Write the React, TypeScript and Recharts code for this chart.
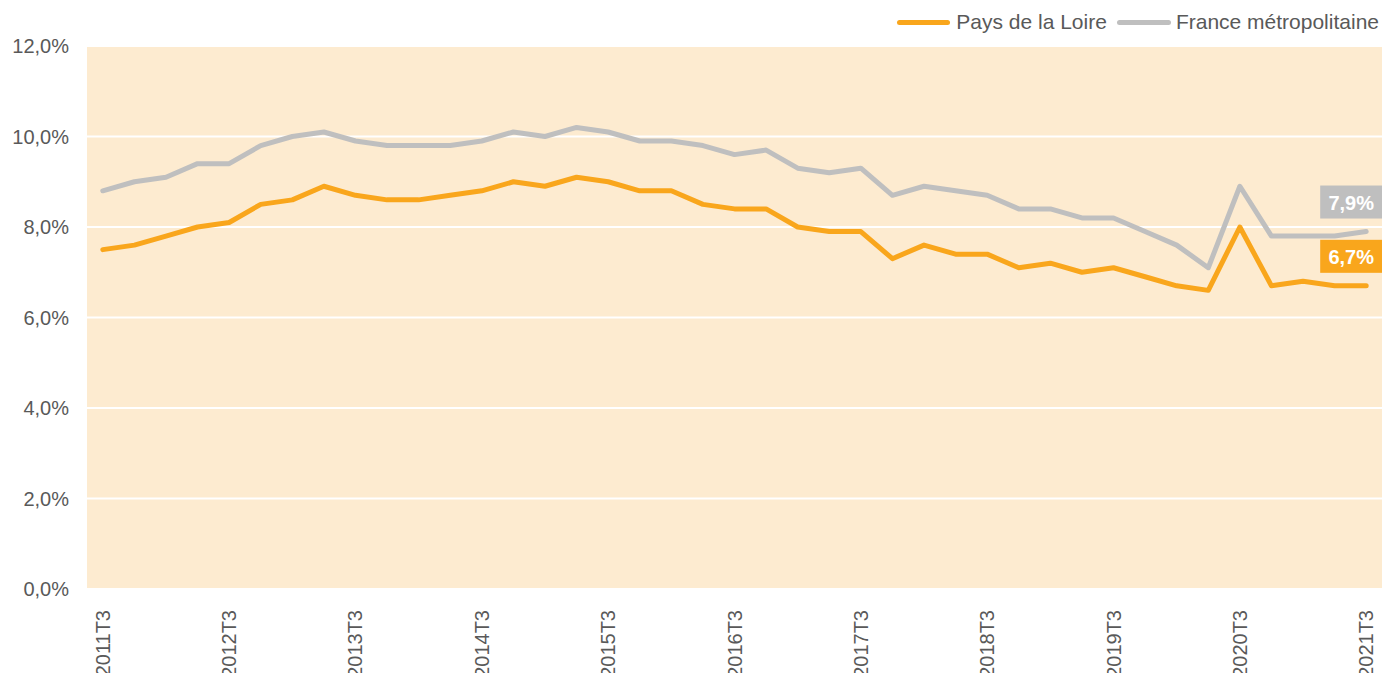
import React from "react";
import { LineChart, Line, XAxis, YAxis, CartesianGrid, LabelList } from "recharts";

const periods = [
  "2011T3","2011T4","2012T1","2012T2","2012T3","2012T4","2013T1","2013T2","2013T3","2013T4",
  "2014T1","2014T2","2014T3","2014T4","2015T1","2015T2","2015T3","2015T4","2016T1","2016T2",
  "2016T3","2016T4","2017T1","2017T2","2017T3","2017T4","2018T1","2018T2","2018T3","2018T4",
  "2019T1","2019T2","2019T3","2019T4","2020T1","2020T2","2020T3","2020T4","2021T1","2021T2","2021T3",
];
const paysDeLaLoire = [
  7.5, 7.6, 7.8, 8.0, 8.1, 8.5, 8.6, 8.9, 8.7, 8.6,
  8.6, 8.7, 8.8, 9.0, 8.9, 9.1, 9.0, 8.8, 8.8, 8.5,
  8.4, 8.4, 8.0, 7.9, 7.9, 7.3, 7.6, 7.4, 7.4, 7.1,
  7.2, 7.0, 7.1, 6.9, 6.7, 6.6, 8.0, 6.7, 6.8, 6.7, 6.7,
];
const franceMetro = [
  8.8, 9.0, 9.1, 9.4, 9.4, 9.8, 10.0, 10.1, 9.9, 9.8,
  9.8, 9.8, 9.9, 10.1, 10.0, 10.2, 10.1, 9.9, 9.9, 9.8,
  9.6, 9.7, 9.3, 9.2, 9.3, 8.7, 8.9, 8.8, 8.7, 8.4,
  8.4, 8.2, 8.2, 7.9, 7.6, 7.1, 8.9, 7.8, 7.8, 7.8, 7.9,
];
const yTicks = [0, 2, 4, 6, 8, 10, 12];
const seriesNames = ["Pays de la Loire", "France métropolitaine"];

const ORANGE = "#F9A61C";
const GRAY = "#BFBFBF";
const TEXT = "#595959";
const FONT = "'Liberation Sans', Arial, sans-serif";

const data = periods.map((p, i) => ({ period: p, pdl: paysDeLaLoire[i], fr: franceMetro[i] }));

const fmt = (v: number) => v.toFixed(1).replace(".", ",") + "%";

const XTick = (props: any) => {
  const { x, y, payload } = props;
  const ay = y + 13;
  return (
    <text x={x} y={ay} transform={`rotate(-90, ${x}, ${ay})`} textAnchor="end" dy="0.35em"
      fill={TEXT} fontSize={20} fontFamily={FONT}>
      {payload.value}
    </text>
  );
};

const makeLastLabel = (color: string) => (props: any) => {
  const { x, y, value, index } = props;
  if (index !== periods.length - 1) return null;
  return (
    <g>
      <rect x={x - 46} y={y - 46} width={62} height={33} fill={color} />
      <text x={x - 15} y={y - 29} dy="0.36em" textAnchor="middle" fill="#fff" fontSize={20}
        fontWeight="bold" fontFamily={FONT}>
        {fmt(value)}
      </text>
    </g>
  );
};

const LegendBox = () => (
  <div style={{ position: "absolute", top: 10, right: 3, display: "flex", alignItems: "center",
    fontFamily: FONT, fontSize: 21, color: TEXT, lineHeight: "24px", whiteSpace: "nowrap" }}>
    <span style={{ display: "inline-block", width: 53, height: 5, background: ORANGE, borderRadius: 3, marginRight: 6 }} />
    <span style={{ marginRight: 10 }}>{seriesNames[0]}</span>
    <span style={{ display: "inline-block", width: 54, height: 5, background: GRAY, borderRadius: 3, marginRight: 5 }} />
    <span>{seriesNames[1]}</span>
  </div>
);

export default function App() {
  return (
    <div style={{ position: "absolute", left: 0, top: 0, width: 1382, height: 673, background: "#fff" }}>
      <LineChart width={1382} height={673} data={data} margin={{ top: 46, right: 0, left: 0, bottom: 0 }}>
        <CartesianGrid vertical={false} stroke="#FFFFFF" strokeWidth={2} fill="#FDEBD0" />
        <XAxis dataKey="period" interval={3} tick={<XTick />} tickLine={false} axisLine={false}
          height={84} padding={{ left: 15.8, right: 15.8 }} />
        <YAxis domain={[0, 12]} ticks={yTicks} tickFormatter={fmt} width={87} tickLine={false}
          axisLine={false} tickSize={0} tickMargin={18}
          tick={{ fill: TEXT, fontSize: 20, fontFamily: FONT }} />
        <Line type="linear" dataKey="fr" name={seriesNames[1]} stroke={GRAY} strokeWidth={5}
          dot={false} isAnimationActive={false} strokeLinejoin="round" strokeLinecap="round">
          <LabelList dataKey="fr" content={makeLastLabel(GRAY)} />
        </Line>
        <Line type="linear" dataKey="pdl" name={seriesNames[0]} stroke={ORANGE} strokeWidth={5}
          dot={false} isAnimationActive={false} strokeLinejoin="round" strokeLinecap="round">
          <LabelList dataKey="pdl" content={makeLastLabel(ORANGE)} />
        </Line>
      </LineChart>
      <LegendBox />
    </div>
  );
}
